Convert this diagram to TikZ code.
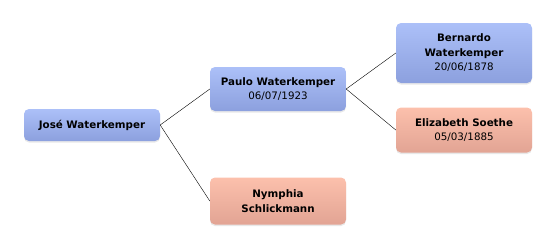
\documentclass[tikz,border=0pt]{standalone}
\usepackage{fontspec}
\setmainfont{DejaVu Sans}
\usetikzlibrary{shadows}
\definecolor{maletop}{RGB}{172,192,248}
\definecolor{malebot}{RGB}{140,160,222}
\definecolor{femtop}{RGB}{252,192,172}
\definecolor{fembot}{RGB}{226,164,148}

\begin{document}
\begin{tikzpicture}[x=1pt,y=-1pt,
  person/.style={rounded corners=5pt,minimum width=136pt,inner sep=2pt,align=center,
    font=\fontsize{10.3}{14.5}\selectfont,
    drop shadow={opacity=0.18,shadow xshift=0pt,shadow yshift=-1.5pt}},
  male/.style={person,top color=maletop,bottom color=malebot},
  female/.style={person,top color=femtop,bottom color=fembot}]
\useasboundingbox (0,0) rectangle (556,250);
\node[male,minimum height=32pt] (jose) at (92,125) {\textbf{José Waterkemper}};
\node[male,minimum height=44pt] (paulo) at (278,89) {\textbf{Paulo Waterkemper}\\06/07/1923};
\node[female,minimum height=47pt] (nymphia) at (278,201) {\textbf{Nymphia}\\\textbf{Schlickmann}};
\node[male,minimum height=60pt] (bernardo) at (464,53) {\textbf{Bernardo}\\\textbf{Waterkemper}\\20/06/1878};
\node[female,minimum height=45pt] (elizabeth) at (464,130) {\textbf{Elizabeth Soethe}\\05/03/1885};
\draw (jose.east) -- (paulo.west);
\draw (jose.east) -- (nymphia.west);
\draw (paulo.east) -- (bernardo.west);
\draw (paulo.east) -- (elizabeth.west);
\end{tikzpicture}
\end{document}
